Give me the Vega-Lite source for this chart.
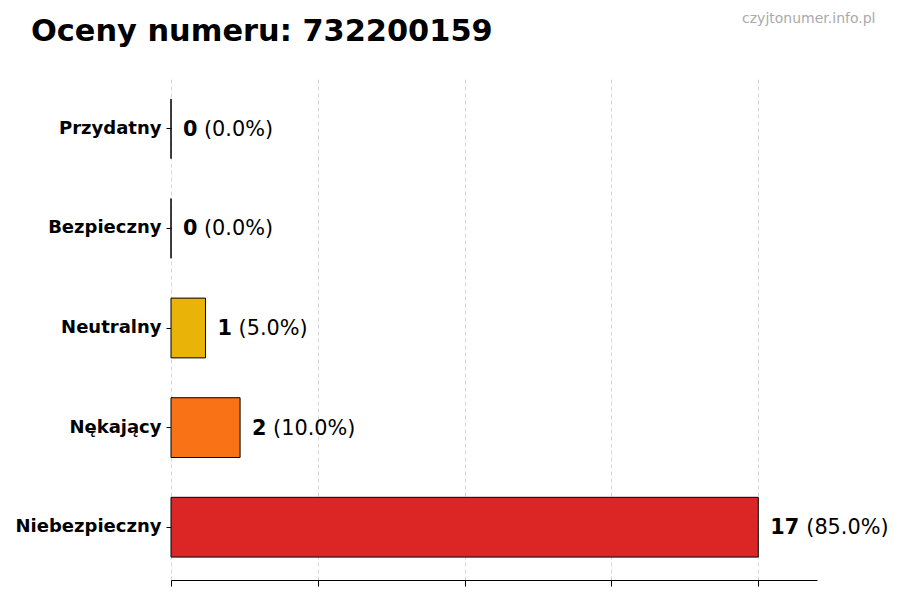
{
  "$schema": "https://vega.github.io/schema/vega-lite/v6.json",
  "autosize": {"type": "none"},
  "padding": {"left": 171, "top": 76, "right": 83, "bottom": 20},
  "width": 646,
  "height": 504,
  "background": "white",
  "title": {
    "text": "Oceny numeru: 732200159",
    "anchor": "start",
    "frame": "group",
    "font": "DejaVu Sans",
    "fontSize": 30.4,
    "fontWeight": "bold",
    "color": "black",
    "dx": -140,
    "dy": 40
  },
  "data": {
    "values": [
      {"kategoria": "Przydatny", "liczba": 0, "procent": "(0.0%)"},
      {"kategoria": "Bezpieczny", "liczba": 0, "procent": "(0.0%)"},
      {"kategoria": "Neutralny", "liczba": 1, "procent": "(5.0%)"},
      {"kategoria": "Nękający", "liczba": 2, "procent": "(10.0%)"},
      {"kategoria": "Niebezpieczny", "liczba": 17, "procent": "(85.0%)"}
    ]
  },
  "encoding": {
    "y": {
      "field": "kategoria",
      "type": "nominal",
      "sort": ["Przydatny", "Bezpieczny", "Neutralny", "Nękający", "Niebezpieczny"],
      "scale": {"paddingInner": 0.4, "paddingOuter": 0.23},
      "axis": {
        "title": null,
        "domain": false,
        "ticks": true,
        "tickSize": 5,
        "tickColor": "black",
        "labelPadding": 5,
        "labelFont": "DejaVu Sans",
        "labelFontSize": 18,
        "labelFontWeight": "bold",
        "labelColor": "black"
      }
    },
    "x": {
      "field": "liczba",
      "type": "quantitative",
      "scale": {"domain": [0, 18.7], "nice": false, "zero": true}
    }
  },
  "layer": [
    {
      "mark": {"type": "bar", "stroke": "black", "strokeWidth": 1},
      "encoding": {
        "x": {
          "field": "liczba",
          "type": "quantitative",
          "axis": {
            "title": null,
            "values": [0, 4.25, 8.5, 12.75, 17],
            "labels": false,
            "ticks": true,
            "tickSize": 6,
            "tickColor": "black",
            "domain": true,
            "domainColor": "black",
            "domainWidth": 1,
            "grid": true,
            "gridColor": "#cccccc",
            "gridDash": [4, 3],
            "gridWidth": 0.8
          }
        },
        "color": {
          "field": "kategoria",
          "type": "nominal",
          "legend": null,
          "scale": {
            "domain": ["Przydatny", "Bezpieczny", "Neutralny", "Nękający", "Niebezpieczny"],
            "range": ["#22C55E", "#84CC16", "#EAB308", "#F97316", "#DC2626"]
          }
        }
      }
    },
    {
      "mark": {
        "type": "text",
        "align": "left",
        "baseline": "middle",
        "dx": 12,
        "dy": 1,
        "font": "DejaVu Sans",
        "fontSize": 20.8,
        "fontWeight": "bold",
        "color": "black"
      },
      "encoding": {
        "x": {
          "field": "liczba",
          "type": "quantitative",
          "axis": {
            "orient": "top",
            "title": "czyjtonumer.info.pl",
            "titleFont": "DejaVu Sans",
            "titleFontSize": 14,
            "titleFontWeight": "normal",
            "titleColor": "#aaaaaa",
            "titleAlign": "right",
            "titleAnchor": "end",
            "titleBaseline": "alphabetic",
            "titleX": 704,
            "titleY": -54,
            "domain": false,
            "ticks": false,
            "labels": false,
            "grid": false
          }
        },
        "text": {"field": "liczba", "type": "quantitative"}
      }
    },
    {
      "transform": [{"filter": "datum.liczba < 10"}],
      "mark": {
        "type": "text",
        "align": "left",
        "baseline": "middle",
        "dx": 33,
        "dy": 1,
        "font": "DejaVu Sans",
        "fontSize": 20.8,
        "color": "black"
      },
      "encoding": {
        "x": {"field": "liczba", "type": "quantitative", "axis": null},
        "text": {"field": "procent", "type": "nominal"}
      }
    },
    {
      "transform": [{"filter": "datum.liczba >= 10"}],
      "mark": {
        "type": "text",
        "align": "left",
        "baseline": "middle",
        "dx": 48,
        "dy": 1,
        "font": "DejaVu Sans",
        "fontSize": 20.8,
        "color": "black"
      },
      "encoding": {
        "x": {"field": "liczba", "type": "quantitative", "axis": null},
        "text": {"field": "procent", "type": "nominal"}
      }
    }
  ],
  "resolve": {"axis": {"x": "independent"}},
  "config": {"view": {"stroke": null}}
}
